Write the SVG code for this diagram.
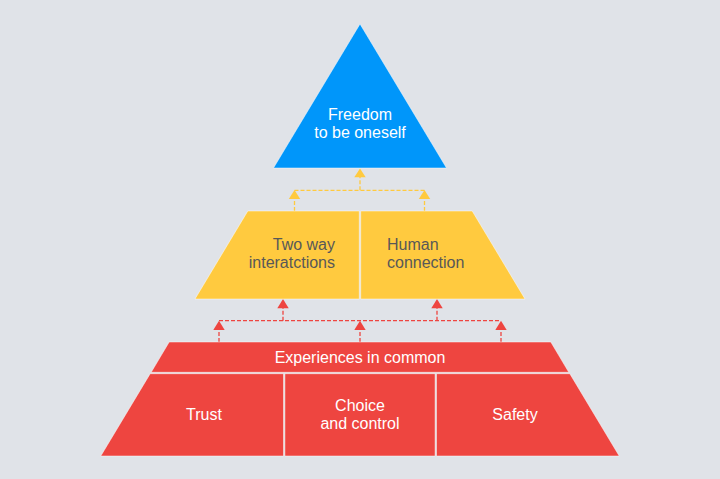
<svg xmlns="http://www.w3.org/2000/svg" width="720" height="479" viewBox="0 0 720 479">
  <defs>
    <style>
      .lbl { font-family: "Liberation Sans", Arial, sans-serif; font-size: 16px; }
      .w { fill: #ffffff; }
      .d { fill: #585858; }
      .blue { fill: #0096FA; stroke: #ffffff; stroke-width: 0.8; stroke-opacity: 0.6; }
      .yel { fill: #FFCA3F; stroke: #ffffff; stroke-width: 0.8; stroke-opacity: 0.6; }
      .red { fill: #EE4540; stroke: #ffffff; stroke-width: 0.8; stroke-opacity: 0.6; }
      .ylink { stroke: #FFCA3F; stroke-width: 1.3; stroke-dasharray: 4 2; fill: none; }
      .rlink { stroke: #EE4540; stroke-width: 1.3; stroke-dasharray: 4 2; fill: none; }
      .yhead { fill: #FFCA3F; }
      .rhead { fill: #EE4540; }
    </style>
  </defs>
  <rect x="0" y="0" width="720" height="479" fill="#E0E3E8"/>

  <g id="connectors">
    <g id="yellow-links">
      <path class="ylink" d="M294.5,211 V197 M424.5,211 V197 M294.5,190.3 H424.5 M360,190.3 V175"/>
      <polygon class="yhead" points="360,168.5 354.3,177.2 365.7,177.2"/>
      <polygon class="yhead" points="294.5,190 288.8,199 300.2,199"/>
      <polygon class="yhead" points="424.5,190 418.8,199 430.2,199"/>
    </g>
    <g id="red-links">
      <path class="rlink" d="M219,342 V328 M360,342 V328 M501,342 V328 M219,320.7 H501 M283,320.7 V306 M437,320.7 V306"/>
      <polygon class="rhead" points="283,299 277.3,308.3 288.7,308.3"/>
      <polygon class="rhead" points="437,299 431.3,308.3 442.7,308.3"/>
      <polygon class="rhead" points="219,320.7 213.3,330 224.7,330"/>
      <polygon class="rhead" points="360,320.7 354.3,330 365.7,330"/>
      <polygon class="rhead" points="501,320.7 495.3,330 506.7,330"/>
    </g>
  </g>

  <g id="freedom">
    <polygon class="blue" points="360,24 446.5,168 273.5,168"/>
    <text class="lbl w" x="360" y="120" text-anchor="middle">Freedom</text>
    <text class="lbl w" x="360" y="138" text-anchor="middle">to be oneself</text>
  </g>

  <g id="two-way">
    <polygon class="yel" points="247.8,211 359.3,211 359.3,299 195,299"/>
    <text class="lbl d" x="335" y="250" text-anchor="end">Two way</text>
    <text class="lbl d" x="335" y="268" text-anchor="end">interatctions</text>
  </g>

  <g id="human">
    <polygon class="yel" points="360.7,211 472.2,211 525,299 360.7,299"/>
    <text class="lbl d" x="387" y="250">Human</text>
    <text class="lbl d" x="387" y="268">connection</text>
  </g>

  <g id="experiences">
    <polygon class="red" points="169.2,342 550.8,342 568.8,372.3 151.2,372.3"/>
    <text class="lbl w" x="360" y="363" text-anchor="middle">Experiences in common</text>
  </g>

  <g id="trust">
    <polygon class="red" points="150.2,373.7 283.5,373.7 283.5,456 100.8,456"/>
    <text class="lbl w" x="204" y="419.5" text-anchor="middle">Trust</text>
  </g>

  <g id="choice">
    <polygon class="red" points="284.9,373.7 435.1,373.7 435.1,456 284.9,456"/>
    <text class="lbl w" x="360" y="411" text-anchor="middle">Choice</text>
    <text class="lbl w" x="360" y="429" text-anchor="middle">and control</text>
  </g>

  <g id="safety">
    <polygon class="red" points="436.5,373.7 569.8,373.7 619.2,456 436.5,456"/>
    <text class="lbl w" x="515" y="420" text-anchor="middle">Safety</text>
  </g>
</svg>
